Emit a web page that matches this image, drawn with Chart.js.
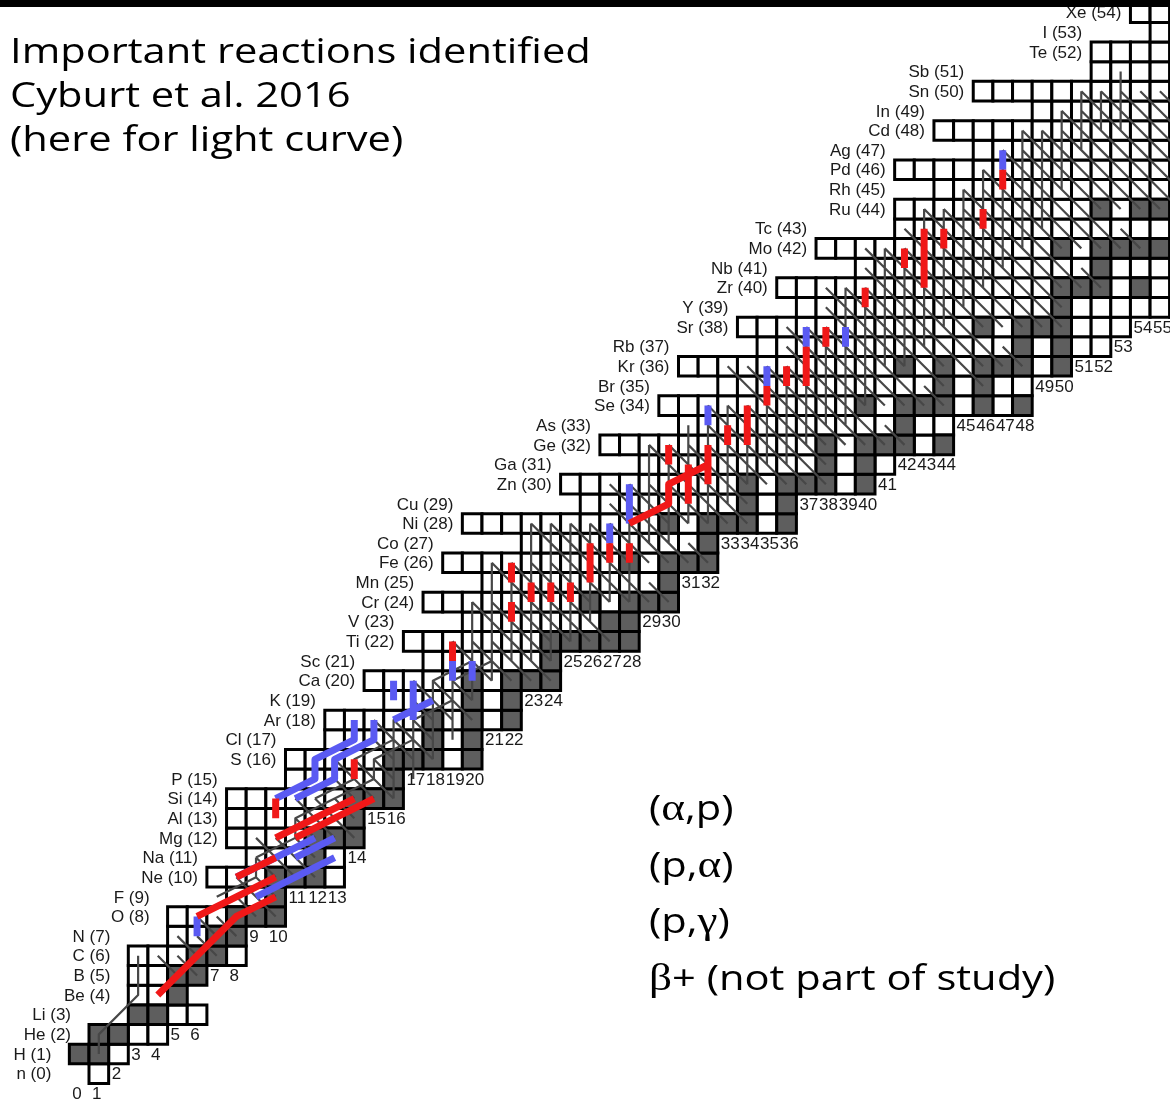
<!DOCTYPE html>
<html>
<head>
<meta charset="utf-8">
<script src="https://cdn.jsdelivr.net/npm/chart.js@4.4.1/dist/chart.umd.min.js"></script>
<style>
  html, body { margin: 0; padding: 0; background: #fff; }
  #wrap { width: 1170px; height: 1111px; position: relative; }
</style>
</head>
<body>
<div id="wrap"><canvas id="chart"></canvas></div>
<script>
// element symbol per proton number Z (row index)
const elements = ['n','H','He','Li','Be','B','C','N','O','F','Ne','Na','Mg','Al','Si','P','S','Cl','Ar','K',
  'Ca','Sc','Ti','V','Cr','Mn','Fe','Co','Ni','Cu','Zn','Ga','Ge','As','Se','Br','Kr','Rb','Sr','Y',
  'Zr','Nb','Mo','Tc','Ru','Rh','Pd','Ag','Cd','In','Sn','Sb','Te','I','Xe'];

// first and last neutron number drawn in each row
const nFirst = [1,0,1,3,3,3,3,5,5,8,7,9,8,8,8,11,11,13,13,16,15,18,17,20,18,21,19,23,20,26,
  25,29,27,31,30,33,31,35,34,37,36,40,38,42,42,44,42,46,44,49,46,52,52,55,54];
const nLast = [1,2,4,6,5,6,8,8,10,10,13,13,14,14,16,16,20,20,22,22,24,24,28,28,30,30,32,32,36,36,
  40,41,44,44,48,48,50,52,53,56,56,56,56,56,56,56,56,56,56,56,56,56,56,56,56];

// stable nuclei (grey boxes), neutron numbers per row
const stable = [[],[0,1],[1,2],[3,4],[5],[5,6],[6,7],[7,8],[8,9,10],[10],
  [10,11,12],[12],[12,13,14],[14],[14,15,16],[16],[16,17,18,20],[18,20],[18,20,22],[20,22],
  [20,22,23,24],[24],[24,25,26,27,28],[27,28],[26,28,29,30],[30],[28,30,31,32],[32],[30,32,33,34,36],[34,36],
  [34,36,37,38,40],[38,40],[38,40,41,42,44],[42],[40,42,43,44,46,48],[44,46],[42,44,46,47,48,50],[48,50],[46,48,49,50],[50],
  [50,51,52,54,56],[52],[50,52,53,54,55,56],[],[52,54,55,56],[],[56],[],[],[],
  [],[],[],[],[]];

// neutron number labels and the row they sit in
const labelN   = [0,1,2,3,4,5,6,7,8,9,10,11,12,13,14,15,16,17,18,19,20,21,22,23,24,25,26,27,
  28,29,30,31,32,33,34,35,36,37,38,39,40,41,42,43,44,45,46,47,48,49,50,51,52,53,54,55];
const labelRow = [-1,-1,0,1,1,2,2,5,5,7,7,9,9,9,11,13,13,15,15,15,15,17,17,19,19,21,21,21,
  21,23,23,25,25,27,27,27,27,29,29,29,29,30,31,31,31,33,33,33,33,35,35,36,36,37,38,38];

// (p,g) flow: column N, from row to row
const pgN    = [16,17,18,19,20,21,22,23,24,25,26,27,28,29,30,31,32,33,34,35,36,37,38,39,40,41,42,43,44,45,46,47,48,49,50,51,52,53];
const pgFrom = [14,15,16,17,19,20,21,21,21,22,23,24,24,27,27,28,28,29,30,31,31,32,33,33,34,36,36,37,38,39,40,41,42,43,45,47,48,48];
const pgTo   = [18,19,19,22,24,26,26,28,28,28,28,28,30,32,32,33,34,34,34,36,36,38,38,40,40,42,42,44,44,45,46,47,48,48,49,50,50,51];

// beta+ flow: row Z, neutron range of decaying nuclei
const betaZ    = [6,7,8,9,10,11,12,13,14,15,16,17,18,19,20,21,22,23,24,25,26,27,28,29,30,31,32,33,34,35,36,37,38,39,40,41,42,43,44,45,46,47,48,49,50];
const betaFrom = [4,5,6,8,8,9,9,11,11,13,13,15,15,17,17,20,19,21,20,22,21,24,23,27,27,30,29,32,32,34,33,36,36,38,38,40,40,42,43,45,46,47,48,50,51];
const betaTo   = [5,6,7,9,9,11,11,13,13,15,15,17,17,19,19,23,23,26,25,29,27,31,29,33,33,37,37,41,39,43,45,47,45,49,49,51,49,53,51,55,55,55,55,55,55];

// other weak flows (thin lines), [N, Z] points
const grayPaths = [
  [[1,1],[1,2],[3,4],[3,6]],
  [[12,14],[14,15],[14,16],[16,17],[16,18],[18,19],[18,20],[20,21]],
  [[13,14],[15,15],[15,16],[17,17],[17,18],[19,19],[19,20],[21,21]],
  [[9,11],[11,12],[11,13],[13,14]],
  [[7,9],[9,10],[9,11]]
];

// highlighted (p,g) reactions: column N, from row to row
const redBarN    = [47,46,44,43,42,40,38,37,36,35,34,33,32,31,30,28,27,26,25,24,23,22,22,19,14,10];
const redBarFrom = [45,43,42,40,41,39,37,35,35,34,32,32,30,29,31,26,26,25,24,24,24,25,23,21,15,13];
const redBarTo   = [46,44,43,43,42,40,38,37,36,35,34,33,32,31,32,27,27,27,25,25,25,26,24,22,16,14];
const blueBarN    = [47,39,37,35,32,28,27,20,19,17,16,6];
const blueBarFrom = [46,37,37,35,33,28,27,20,20,18,19,7];
const blueBarTo   = [47,38,38,36,34,30,28,21,21,20,20,8];

// highlighted (a,p) chains
const redPaths = [
  [[4,4],[8,8],[10,9]],
  [[6,8],[8,9],[10,10]],
  [[8,10],[10,11]],
  [[10,12],[12,13],[14,14]],
  [[11,12],[13,13],[15,14]],
  [[28,28],[30,29],[30,30],[32,31]]
];
const bluePaths = [
  [[10,14],[12,15],[12,16],[14,17],[14,18]],
  [[11,14],[13,15],[13,16],[15,17],[15,18]],
  [[16,18],[18,19]],
  [[8,10],[10,11],[12,12]],
  [[9,9],[11,10],[13,11]],
  [[11,11],[13,12]]
];

const titleLines = ['Important reactions identified', 'Cyburt et al. 2016', '(here for light curve)'];
const legendLines = ['(\u03b1,p)', '(p,\u03b1)', '(p,\u03b3)', '\u03b2+ (not part of study)'];

// ---- build chart data ----
function hasCell(n, z) {
  return z >= 0 && z < elements.length && n >= nFirst[z] && n <= nLast[z];
}

const whiteCells = [], darkCells = [];
elements.forEach((sym, z) => {
  for (let n = nFirst[z]; n <= nLast[z]; n++) {
    (stable[z].includes(n) ? darkCells : whiteCells).push({x: n, y: z});
  }
});

function toLine(paths) {
  const out = [];
  paths.forEach(p => {
    p.forEach(pt => out.push({x: pt[0], y: pt[1]}));
    out.push({x: null, y: null});
  });
  return out;
}

const graySegs = [];
pgN.forEach((n, i) => graySegs.push([[n, pgFrom[i]], [n, pgTo[i]]]));
betaZ.forEach((z, i) => {
  for (let n = betaFrom[i]; n <= betaTo[i]; n++) {
    if (hasCell(n, z) && hasCell(n + 1, z - 1) && !stable[z].includes(n)) {
      graySegs.push([[n, z], [n + 1, z - 1]]);
    }
  }
});
grayPaths.forEach(p => graySegs.push(p));

const redSegs = redBarN.map((n, i) => [[n, redBarFrom[i]], [n, redBarTo[i]]]).concat(redPaths);
const blueSegs = blueBarN.map((n, i) => [[n, blueBarFrom[i]], [n, blueBarTo[i]]]).concat(bluePaths);

function cellRadius(ctx) {
  const x = ctx.chart.scales.x;
  return (x.getPixelForValue(1) - x.getPixelForValue(0)) / Math.SQRT2;
}

const cellStyle = {
  showLine: false,
  pointStyle: 'rect',
  pointRadius: cellRadius,
  pointHoverRadius: cellRadius,
  borderColor: '#000',
  borderWidth: 3,
  pointBorderWidth: 3
};

const flowStyle = {
  showLine: true,
  spanGaps: false,
  pointRadius: 0,
  pointHoverRadius: 0,
  tension: 0,
  fill: false,
  borderCapStyle: 'butt',
  borderJoinStyle: 'round'
};

// text with greek letters set in a serif face, stretched sideways a little
function drawCaption(ctx, s, px, py) {
  const size = 35;
  const runs = [];
  for (const ch of s) {
    const greek = ch >= '\u0370' && ch <= '\u03ff';
    const last = runs[runs.length - 1];
    if (last && last.greek === greek) last.text += ch;
    else runs.push({text: ch, greek});
  }
  ctx.save();
  ctx.translate(px, py);
  ctx.scale(1.19, 1);
  let cx = 0;
  runs.forEach(r => {
    ctx.font = r.greek ? (size + 3) + 'px "Liberation Serif", serif' : size + 'px "Open Sans", sans-serif';
    ctx.fillText(r.text, cx, 0);
    cx += ctx.measureText(r.text).width;
  });
  ctx.restore();
}

// labels, captions and the dark strip along the top
const chartText = {
  id: 'chartText',
  beforeDraw(chart) {
    const ctx = chart.ctx;
    ctx.save();
    ctx.fillStyle = '#fff';
    ctx.fillRect(0, 0, chart.width, chart.height);
    ctx.restore();
  },
  afterDraw(chart) {
    const {ctx, scales: {x, y}} = chart;
    ctx.save();
    ctx.fillStyle = '#1a1a1a';
    ctx.font = '17px "Liberation Sans", Arial, sans-serif';
    ctx.textBaseline = 'middle';
    ctx.textAlign = 'right';
    elements.forEach((sym, z) => {
      const row = z < 2 ? 1 : z - z % 2;
      const gap = z < 10 ? 18 : 9;
      ctx.fillText(sym + ' (' + z + ')', x.getPixelForValue(nFirst[row] - 0.5) - gap, y.getPixelForValue(z) + 1);
    });
    ctx.textAlign = 'left';
    labelN.forEach((n, i) => {
      ctx.fillText(String(n), x.getPixelForValue(n - 0.5) + 3, y.getPixelForValue(labelRow[i]) + 1);
    });

    ctx.fillStyle = '#000';
    ctx.textBaseline = 'alphabetic';
    titleLines.forEach((s, i) => drawCaption(ctx, s, 10, 63 + i * 44));
    legendLines.forEach((s, i) => drawCaption(ctx, s, 649, 820 + i * 56.7));

    ctx.fillRect(0, 0, chart.width, 7);
    ctx.restore();
  }
};

new Chart(document.getElementById('chart'), {
  type: 'scatter',
  data: {
    datasets: [
      Object.assign({label: 'red', data: toLine(redSegs), borderColor: '#f01818', borderWidth: 7, order: 1}, flowStyle),
      Object.assign({label: 'blue', data: toLine(blueSegs), borderColor: '#5a5af2', borderWidth: 7, order: 2}, flowStyle),
      Object.assign({label: 'flow', data: toLine(graySegs), borderColor: '#474747', borderWidth: 2.2, order: 3}, flowStyle),
      Object.assign({label: 'stable', data: darkCells, backgroundColor: '#5e5e5e', order: 4}, cellStyle),
      Object.assign({label: 'unstable', data: whiteCells, backgroundColor: '#fff', order: 5}, cellStyle)
    ]
  },
  options: {
    responsive: true,
    maintainAspectRatio: false,
    animation: false,
    events: [],
    layout: {padding: 0, autoPadding: false},
    plugins: {legend: {display: false}, tooltip: {enabled: false}, title: {display: false}},
    scales: {
      x: {type: 'linear', display: false, min: -4.0293, max: 55.513},
      y: {type: 'linear', display: false, min: -1.8995, max: 54.64}
    }
  },
  plugins: [chartText]
});
</script>
</body>
</html>
